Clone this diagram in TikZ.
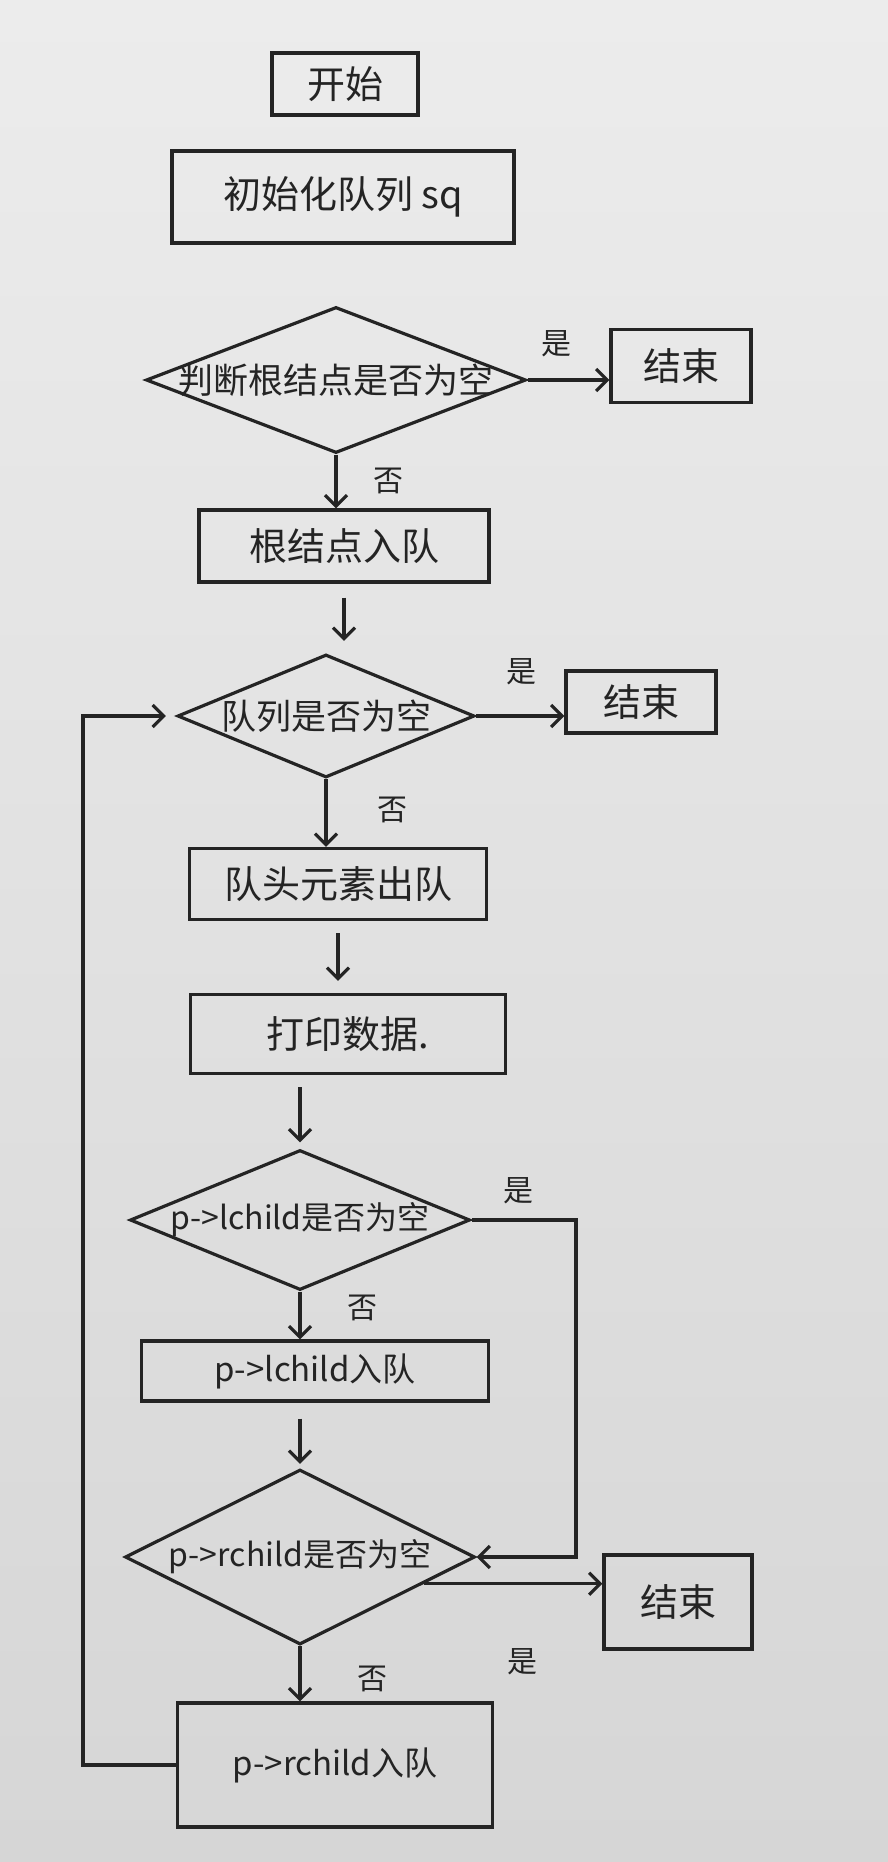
\documentclass[tikz,border=0pt]{standalone}
\usepackage{fontspec}
\setmainfont{Noto Sans CJK SC}
\usetikzlibrary{shapes.geometric,arrows.meta,calc}
\definecolor{paper}{RGB}{236,236,236}
\definecolor{paperdark}{RGB}{214,214,214}
\definecolor{ink}{RGB}{36,36,36}
\begin{document}
\begin{tikzpicture}[x=1pt,y=-1pt,
  box/.style={draw=ink, line width=3.2pt, rectangle, inner sep=0pt, text=ink, font=\fontsize{38}{44}\selectfont},
  dec/.style={draw=ink, line width=3.2pt, diamond, inner sep=0pt},
  dtext/.style={text=ink, inner sep=0pt, font=\fontsize{35}{40}\selectfont},
  dtexts/.style={text=ink, inner sep=0pt, font=\fontsize{32}{38}\selectfont},
  arr/.style={draw=ink, line width=3.2pt, -{Straight Barb[length=11pt,width=22pt,line width=3.2pt]}},
  lab/.style={text=ink, inner sep=0pt, font=\fontsize{30}{36}\selectfont}]
\shade[top color=paper, bottom color=paperdark] (0,0) rectangle (888,1862);
\useasboundingbox (0,0) rectangle (888,1862);

\node[box, minimum width=146pt, minimum height=62pt] (start) at (345,84) {开始};
\node[box, minimum width=342pt, minimum height=92pt] (init) at (343,197) {初始化队列 sq};
\node[dec, minimum width=380pt, minimum height=146pt, label={[dtext]center:判断根结点是否为空}] (d1) at (336,380) {};
\node[box, minimum width=140pt, minimum height=73pt] (end1) at (681,366) {结束};
\node[box, minimum width=290pt, minimum height=72pt] (root) at (344,546) {根结点入队};
\node[dec, minimum width=297pt, minimum height=123pt, label={[dtext]center:队列是否为空}] (d2) at (326,716) {};
\node[box, minimum width=150pt, minimum height=62pt] (end2) at (641,702) {结束};
\node[box, minimum width=297pt, minimum height=71pt] (pop) at (338,884) {队头元素出队};
\node[box, minimum width=315pt, minimum height=79pt] (print) at (348,1034) {打印数据.};
\node[dec, minimum width=340pt, minimum height=140pt, label={[dtexts]center:p->lchild是否为空}] (d3) at (300,1220) {};
\node[box, minimum width=347pt, minimum height=60pt, font=\fontsize{33}{38}\selectfont] (lbox) at (315,1371) {p->lchild入队};
\node[dec, minimum width=350pt, minimum height=175pt, label={[dtexts]center:p->rchild是否为空}] (d4) at (300,1557) {};
\node[box, minimum width=148pt, minimum height=94pt] (end3) at (678,1602) {结束};
\node[box, minimum width=315pt, minimum height=124pt, font=\fontsize{33}{38}\selectfont] (rbox) at (335,1765) {p->rchild入队};

\coordinate (rr) at (576,0);
\coordinate (ll) at (83,0);
\coordinate (d4out) at ($(d4.east)!0.3!(d4.south)$);

\draw[arr] (d1.east) -- (d1.east -| end1.west);
\draw[arr] (d1.south) -- (d1.south |- root.north);
\draw[arr, shorten <=14pt, shorten >=12pt] (root.south) -- (root.south |- d2.north);
\draw[arr] (d2.east) -- (d2.east -| end2.west);
\draw[arr] (d2.south) -- (d2.south |- pop.north);
\draw[arr, shorten <=12pt, shorten >=12pt] (pop.south) -- (pop.south |- print.north);
\draw[arr, shorten <=12pt, shorten >=6pt] (d3.north |- print.south) -- (d3.north);
\draw[arr] (d3.south) -- (d3.south |- lbox.north);
\draw[arr, shorten <=16pt, shorten >=4pt] (d4.north |- lbox.south) -- (d4.north);
\draw[arr] (d3.east) -- (d3.east -| rr) -- (rr |- d4.east) -- (d4.east);
\draw[arr] (d4out) -- (d4out -| end3.west);
\draw[arr] (d4.south) -- (d4.south |- rbox.north);
\draw[arr, shorten >=10pt] (rbox.west) -- (rbox.west -| ll) -- (ll |- d2.west) -- (d2.west);

\node[lab] (y1) at (556,344) {是};
\node[lab] (n1) at (388,481) {否};
\node[lab] (y2) at (521,672) {是};
\node[lab] (n2) at (392,810) {否};
\node[lab] (y3) at (518,1191) {是};
\node[lab] (n3) at (362,1308) {否};
\node[lab] (y4) at (522,1662) {是};
\node[lab] (n4) at (372,1679) {否};
\end{tikzpicture}
\end{document}
